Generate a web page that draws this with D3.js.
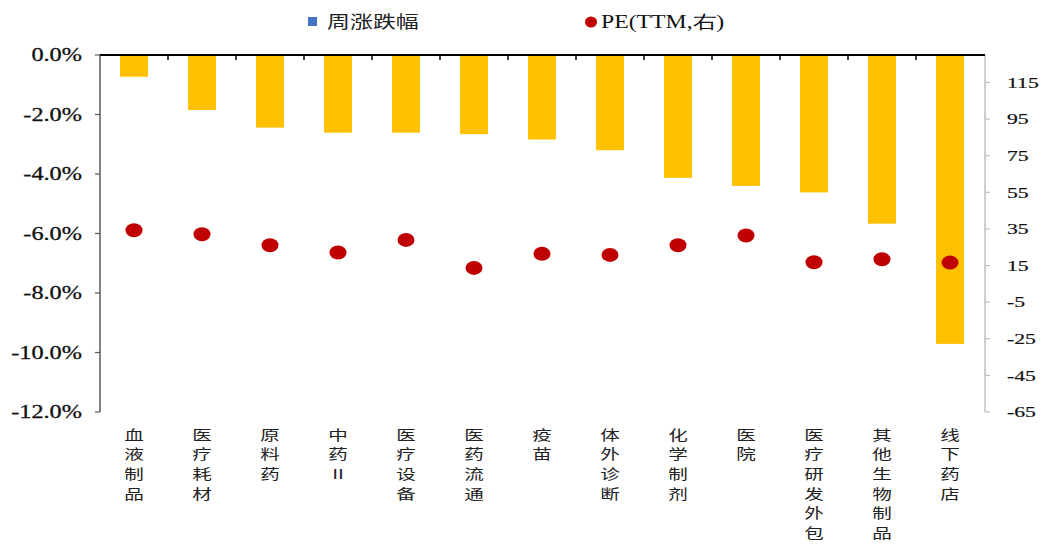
<!DOCTYPE html>
<html><head><meta charset="utf-8">
<script src="https://cdn.jsdelivr.net/npm/d3@7"></script>
<style>body{margin:0;background:#fff;} svg{display:block;}</style>
</head><body>
<script>
const categories = ["血液制品","医疗耗材","原料药","中药Ⅱ","医疗设备","医药流通","疫苗","体外诊断","化学制剂","医院","医疗研发外包","其他生物制品","线下药店"];
const weeklyChange = [-0.73,-1.85,-2.44,-2.61,-2.61,-2.66,-2.84,-3.20,-4.13,-4.40,-4.62,-5.67,-9.71];
const peTTM = [34.3,32.1,26.1,22.1,29.0,13.7,21.4,20.8,26.1,31.4,16.8,18.4,16.6];
const leftTicks = [0,-2,-4,-6,-8,-10,-12];
const rightTicks = [115,95,75,55,35,15,-5,-25,-45,-65];
const legendLabels = ["周涨跌幅","PE(TTM,右)"];

(function(){
const W=1045,H=546;
const svg=d3.select("body").append("svg").attr("width",W).attr("height",H);
const pL=100,pR=985,pT=55,pB=412;
const x=d3.scaleBand().domain(categories).range([pL,pR-1]).paddingInner(0.59).paddingOuter(0.295);
const yL=d3.scaleLinear().domain([-12,0]).range([pB,pT]);
const yR=d3.scaleLinear().domain([-65,130]).range([pB,pT]);
const serif="'Liberation Serif','Times New Roman',serif";
const cjk="'Noto Sans CJK SC',sans-serif";

// bars
svg.selectAll("rect.bar").data(categories).enter().append("rect")
  .attr("x",d=>x(d)).attr("width",x.bandwidth())
  .attr("y",yL(0)).attr("height",(d,i)=>yL(weeklyChange[i])-yL(0))
  .attr("fill","#FFC000");

// left axis
svg.append("line").attr("x1",pL).attr("x2",pL).attr("y1",pT).attr("y2",pB).attr("stroke","#595959").attr("stroke-width",1.5);
leftTicks.forEach(t=>{
  svg.append("line").attr("x1",pL-5).attr("x2",pL).attr("y1",yL(t)).attr("y2",yL(t)).attr("stroke","#595959").attr("stroke-width",1.2);
  svg.append("g").attr("transform",`translate(82,${yL(t)}) scale(1.35,1)`)
    .append("text").attr("text-anchor","end").attr("dy","0.35em")
    .attr("font-family",serif).attr("font-size",18).attr("fill","#111").attr("stroke","#111").attr("stroke-width",0.3)
    .text(t.toFixed(1)+"%");
});

// right axis
svg.append("line").attr("x1",pR).attr("x2",pR).attr("y1",pT).attr("y2",pB).attr("stroke","#BFBFBF").attr("stroke-width",1.5);
rightTicks.forEach(t=>{
  svg.append("line").attr("x1",pR).attr("x2",pR+5).attr("y1",yR(t)).attr("y2",yR(t)).attr("stroke","#BFBFBF").attr("stroke-width",1.2);
  svg.append("g").attr("transform",`translate(1007,${yR(t)}) scale(1.45,1)`)
    .append("text").attr("text-anchor","start").attr("dy","0.35em")
    .attr("font-family",serif).attr("font-size",15).attr("fill","#111").attr("stroke","#111").attr("stroke-width",0.2)
    .text(t);
});

// top category axis (at 0)
svg.append("line").attr("x1",pL).attr("x2",pR).attr("y1",pT).attr("y2",pT).attr("stroke","#000").attr("stroke-width",2);
categories.slice(0,-1).forEach(c=>{
  const bx=x(c)+x.bandwidth()+(x.step()-x.bandwidth())/2;
  svg.append("line").attr("x1",bx).attr("x2",bx).attr("y1",pT).attr("y2",pT+5).attr("stroke","#000").attr("stroke-width",1.5);
});

// dots
svg.selectAll("ellipse.pe").data(categories).enter().append("ellipse")
  .attr("cx",d=>x(d)+x.bandwidth()/2).attr("cy",(d,i)=>yR(peTTM[i]))
  .attr("rx",8.5).attr("ry",7).attr("fill","#C00000");

// category labels (vertical stack of characters)
categories.forEach(c=>{
  const cx=x(c)+x.bandwidth()/2;
  Array.from(c).forEach((ch,j)=>{
    svg.append("g").attr("transform",`translate(${cx},${435+j*19.6}) scale(1.45,1)`)
      .append("text").attr("text-anchor","middle").attr("dy","0.36em")
      .attr("font-family",cjk).attr("font-size",13.5).attr("fill","#222")
      .text(ch);
  });
});

// legend
svg.append("rect").attr("x",308).attr("y",17).attr("width",9).attr("height",9).attr("fill","#4472C4");
svg.append("g").attr("transform","translate(327,22) scale(1.35,1)").append("text").attr("dy","0.35em")
  .attr("font-family",cjk).attr("font-size",17).attr("fill","#222").text(legendLabels[0]);
svg.append("ellipse").attr("cx",591).attr("cy",22).attr("rx",6).attr("ry",5.5).attr("fill","#C00000");
svg.append("g").attr("transform","translate(601,22) scale(1.32,1)").append("text").attr("dy","0.35em")
  .attr("font-family",serif).attr("font-size",18).attr("fill","#111").text(legendLabels[1]);
})();
</script>
</body></html>
